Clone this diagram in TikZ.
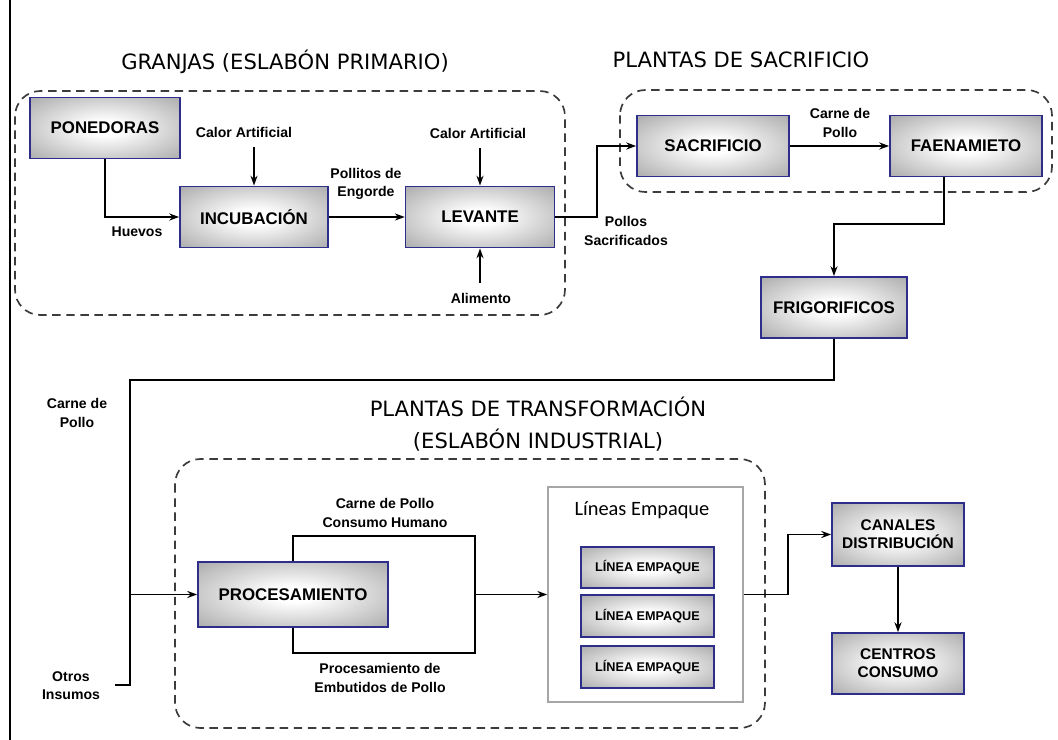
\documentclass[tikz,border=0pt]{standalone}
\usepackage{fontspec}
\setmainfont{Liberation Sans}
\newfontfamily\titlefont{DejaVu Sans}
\newfontfamily\packfont{Carlito}
\usetikzlibrary{arrows.meta}

\definecolor{boxblue}{RGB}{45,45,140}
\definecolor{dashgray}{RGB}{60,60,60}
\pgfdeclareradialshading{glow}{\pgfpointorigin}{color(0bp)=(white); color(6bp)=(white); color(40bp)=(gray!75); color(75bp)=(gray!75)}

\tikzset{
  stage/.style={draw=boxblue,line width=1.2pt,shade,shading=glow,minimum height=1.53cm,align=center,font=\bfseries\fontsize{12}{14}\selectfont},
  flowtext/.style={align=center,inner sep=1pt,font=\bfseries\fontsize{10}{13}\selectfont},
  headline/.style={align=center,font=\titlefont\fontsize{15}{23}\selectfont},
  zone/.style={draw=dashgray,line width=1.2pt,dash pattern=on 6pt off 4pt,rounded corners=18pt},
  flow/.style={line width=1.3pt,-{Stealth[length=7pt,width=5pt]}},
  plain/.style={line width=1.3pt}
}

\begin{document}
\begin{tikzpicture}[x=0.025cm,y=-0.025cm]
            \useasboundingbox (0,0) rectangle (1058,740);
            % page rule left
            \draw [line width=1.4pt] (10,0) -- (10,740);
            % farms
            \node [headline] (granjastitle) at (285,62) {GRANJAS (ESLABÓN PRIMARIO)};
            \draw [zone] (15,91) rectangle (565,315);
            \node [stage,minimum width=3.75cm] (ponedoras) at (105,128) {PONEDORAS};
            \node [stage,minimum width=3.7cm] (incubacion) at (254,217) {INCUBACIÓN};
            \node [stage,minimum width=3.72cm] (levante) at (480,217) {LEVANTE};
            \node [flowtext] (calor1) at (244,132) {Calor Artificial};
            \node [flowtext] (calor2) at (478,133) {Calor Artificial};
            \node [flowtext] (alimento) at (481,298) {Alimento};
            \node [flowtext] (huevos) at (137,232) {Huevos};
            \node [flowtext] (pollitos) at (366,184) {Pollitos de\\Engorde};
            \draw [flow] (ponedoras.south) |- (incubacion.west);
            \draw [flow] (calor1.south -| incubacion.north) ++(0,8) -- (incubacion.north);
            \draw [flow] (incubacion.east) -- (levante.west);
            \draw [flow] (calor2.south -| levante.north) ++(0,8) -- (levante.north);
            \draw [flow] (alimento.north -| levante.south) ++(0,-8) -- (levante.south);
            % slaughter plants
            \node [headline] (sacrificiotitle) at (741,60) {PLANTAS DE SACRIFICIO};
            \draw [zone] (620,90) rectangle (1052,192);
            \node [stage,minimum width=3.8cm] (sacrificio) at (713,146) {SACRIFICIO};
            \node [stage,minimum width=3.8cm] (faenamiento) at (966,146) {FAENAMIETO};
            \node [flowtext] (carne1) at (840,123) {Carne de\\Pollo};
            \node [flowtext] (sacrificados) at (626,231) {Pollos\\Sacrificados};
            \draw [flow] (levante.east) -- ++(42,0) |- (sacrificio.west);
            \draw [flow] (sacrificio) -- (faenamiento);
            % cold storage
            \node [stage,minimum width=3.65cm] (frigorificos) at (834,307.5) {FRIGORIFICOS};
            \draw [flow] (944,0 |- faenamiento.south) -- (944,224) -| (frigorificos.north);
            % feed line to processing
            \coordinate (codo) at (130,380);
            \coordinate (insumos) at (115,685);
            \draw [plain] (frigorificos.south) |- (codo) -- (codo |- insumos) -- (insumos);
            \node [flowtext] (carne2) at (77,413) {Carne de\\Pollo};
            \node [flowtext] (otros) at (71,686) {Otros\\Insumos};
            % transformation plants
            \node [headline] (transformaciontitle) at (538,424) {PLANTAS DE TRANSFORMACIÓN\\(ESLABÓN INDUSTRIAL)};
            \draw [zone] (175,459) rectangle (765,728);
            \node [stage,minimum width=4.75cm,minimum height=1.625cm] (procesamiento) at (293,594.5) {PROCESAMIENTO};
            \coordinate (bifurca) at (475,594.5);
            \draw [flow] (codo |- procesamiento.west) -- (procesamiento.west);
            \draw [plain] (procesamiento.north) |- (475,536) -- (475,653) -| (procesamiento.south);
            \node [flowtext] (consumo) at (385,513) {Carne de Pollo\\Consumo Humano};
            \node [flowtext] (embutidos) at (380,678) {Procesamiento de\\Embutidos de Pollo};
            % packing lines
            \node [draw=gray!70,line width=1.1pt,minimum width=4.875cm,minimum height=5.375cm] (lineas) at (645.5,594.5) {};
            \node [font=\packfont\fontsize{14.5}{16}\selectfont] (lineastitle) at (642,510) {Líneas Empaque};
            \node [stage,minimum width=3.33cm,minimum height=1.04cm,font=\bfseries\fontsize{9}{10}\selectfont] (empaque1) at (647.5,567.5) {LÍNEA EMPAQUE};
            \node [stage,minimum width=3.33cm,minimum height=1.04cm,font=\bfseries\fontsize{9}{10}\selectfont] (empaque2) at (647.5,616) {LÍNEA EMPAQUE};
            \node [stage,minimum width=3.33cm,minimum height=1.04cm,font=\bfseries\fontsize{9}{10}\selectfont] (empaque3) at (647.5,667) {LÍNEA EMPAQUE};
            \draw [flow] (bifurca) -- (lineas.west);
            % distribution
            \node [stage,minimum width=3.3cm,minimum height=1.575cm,font=\bfseries\fontsize{11}{13}\selectfont] (canales) at (898,534.5) {CANALES\\DISTRIBUCIÓN};
            \node [stage,minimum width=3.3cm,minimum height=1.525cm,font=\bfseries\fontsize{11}{13}\selectfont] (centros) at (898,663.5) {CENTROS\\CONSUMO};
            \draw [flow] (lineas.east) -- ++(44,0) |- (canales.west);
            \draw [flow] (canales) -- (centros);
         \end{tikzpicture}
\end{document}
